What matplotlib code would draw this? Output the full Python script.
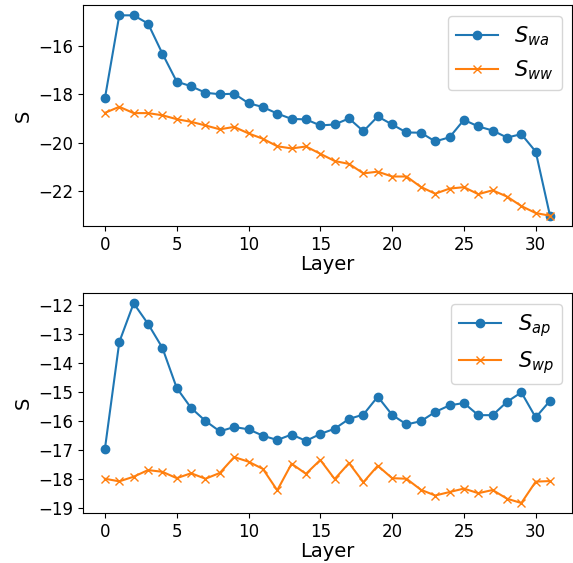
import numpy as np
import matplotlib
matplotlib.use("Agg")
import matplotlib.pyplot as plt
from matplotlib.ticker import MultipleLocator

layers = list(range(32))

s_wa = [-18.15, -14.73, -14.73, -15.07, -16.31, -17.47, -17.66, -17.93, -17.99, -17.97,
        -18.36, -18.52, -18.79, -19.01, -19.03, -19.28, -19.24, -18.99, -19.52, -18.91,
        -19.24, -19.57, -19.58, -19.94, -19.77, -19.05, -19.32, -19.49, -19.78, -19.64,
        -20.36, -23.02]
s_ww = [-18.76, -18.51, -18.77, -18.77, -18.86, -19.02, -19.13, -19.28, -19.44, -19.34,
        -19.61, -19.83, -20.14, -20.23, -20.15, -20.45, -20.75, -20.87, -21.26, -21.19,
        -21.39, -21.39, -21.82, -22.10, -21.89, -21.83, -22.12, -21.96, -22.22, -22.61,
        -22.90, -23.01]

s_ap = [-16.96, -13.27, -11.93, -12.64, -13.47, -14.86, -15.55, -16.00, -16.36, -16.21,
        -16.29, -16.51, -16.66, -16.47, -16.69, -16.45, -16.27, -15.93, -15.78, -15.16,
        -15.79, -16.12, -16.01, -15.69, -15.46, -15.38, -15.80, -15.80, -15.34, -15.01,
        -15.88, -15.30]
s_wp = [-18.00, -18.09, -17.93, -17.70, -17.76, -17.98, -17.81, -18.00, -17.80, -17.25,
        -17.41, -17.66, -18.40, -17.48, -17.83, -17.35, -18.01, -17.46, -18.12, -17.55,
        -17.98, -18.00, -18.38, -18.58, -18.46, -18.34, -18.50, -18.39, -18.69, -18.84,
        -18.10, -18.08]

fig = plt.figure(figsize=(5.73, 5.63), dpi=100)
ax1 = fig.add_axes([0.1443, 0.5986, 0.8545, 0.392])
ax2 = fig.add_axes([0.1443, 0.0888, 0.8545, 0.3902])

panels = [
    (ax1, s_wa, s_ww, r"$S_{wa}$", r"$S_{ww}$", 2),
    (ax2, s_ap, s_wp, r"$S_{ap}$", r"$S_{wp}$", 1),
]
for ax, a, b, la, lb, ystep in panels:
    ax.plot(layers, a, marker="o", color="tab:blue", label=la)
    ax.plot(layers, b, marker="x", color="tab:orange", label=lb)
    ax.set_xlabel("Layer", fontsize=14, labelpad=1)
    ax.set_ylabel("S", fontsize=14)
    ax.yaxis.set_major_locator(MultipleLocator(ystep))
    ax.xaxis.set_major_locator(MultipleLocator(5))
    ax.tick_params(labelsize=12)
    ax.legend(loc="upper right", fontsize=15)

fig.savefig("out.png", dpi=100)
